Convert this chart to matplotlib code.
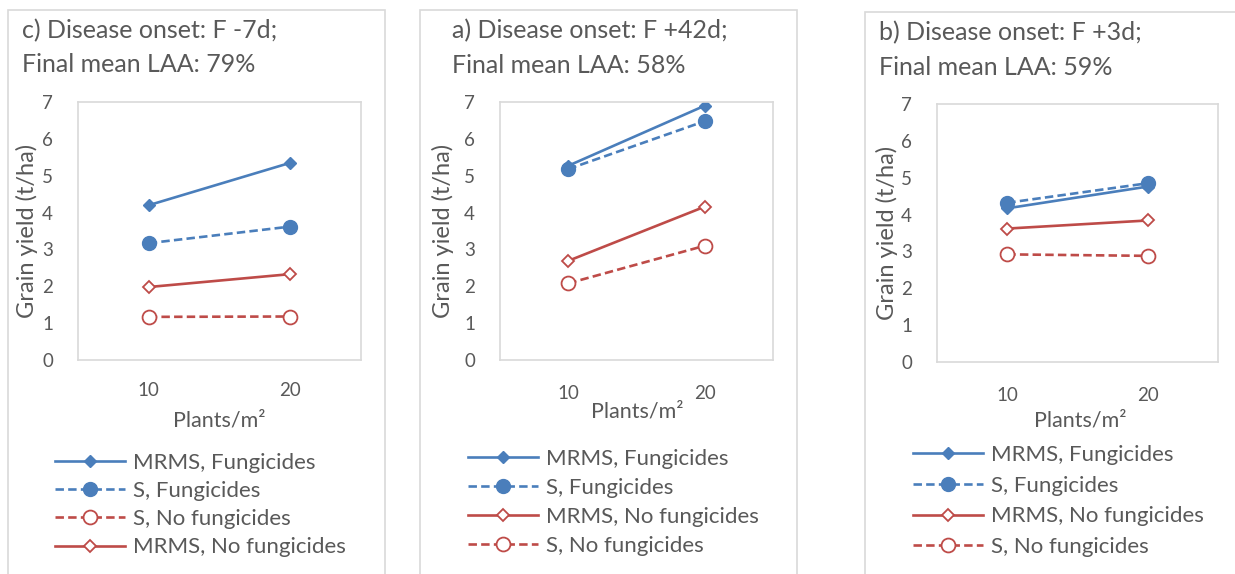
import matplotlib
matplotlib.use('Agg')
import matplotlib.pyplot as plt
from matplotlib.patches import Rectangle

# 字体：Lato 与 Calibri 外观接近
plt.rcParams['font.family'] = ['Lato', 'DejaVu Sans']

W, H = 1235, 574

# 数据
categories = ['10', '20']

c_mrms_f = [4.20, 5.35]
c_s_f = [3.17, 3.62]
c_s_nof = [1.17, 1.18]
c_mrms_nof = [1.98, 2.33]

a_mrms_f = [5.27, 6.90]
a_s_f = [5.18, 6.48]
a_mrms_nof = [2.69, 4.16]
a_s_nof = [2.08, 3.10]

b_mrms_f = [4.17, 4.76]
b_s_f = [4.32, 4.85]
b_mrms_nof = [3.62, 3.84]
b_s_nof = [2.92, 2.88]

titles = [('c) Disease onset: F -7d;', 'Final mean LAA: 79%'),
          ('a) Disease onset: F +42d;', 'Final mean LAA: 58%'),
          ('b) Disease onset: F +3d;', 'Final mean LAA: 59%')]

BLUE = '#4A7EBB'
RED = '#BE4B48'
GREY = '#595959'
FRAME = '#D9D9D9'
DASH = (0, (3.2, 1.6))


def fx(x):
    return x / W


def fy(y):
    return 1 - y / H


def style_of(key):
    # 每条系列的线型和标记
    if key == 'mrms_f':
        return dict(color=BLUE, ls='-', marker='D', ms=6.5, mfc=BLUE, mec=BLUE,
                    label='MRMS, Fungicides')
    if key == 's_f':
        return dict(color=BLUE, ls=DASH, marker='o', ms=10, mfc=BLUE, mec=BLUE,
                    label='S, Fungicides')
    if key == 'mrms_nof':
        return dict(color=RED, ls='-', marker='D', ms=6.5, mfc='white', mec=RED,
                    mew=1.3, label='MRMS, No fungicides')
    return dict(color=RED, ls=DASH, marker='o', ms=10, mfc='white', mec=RED,
                mew=1.3, label='S, No fungicides')


fig = plt.figure(figsize=(W / 100, H / 100), dpi=100)

# 面板配置：外框、绘图区、标题位置、图例位置/行距、各标签位置
panels = [
    dict(border=(7.5, 10, 385, 590), box=(78, 102, 361, 360),
         title=(22, 31, 65), legend=(55, 453, 0.365),
         series=[('mrms_f', c_mrms_f), ('s_f', c_s_f),
                 ('s_nof', c_s_nof), ('mrms_nof', c_mrms_nof)],
         xlab=(0.5, -0.236), ylab=-0.18, xpad=16),
    dict(border=(420, 10, 797, 590), box=(500, 102, 773, 360),
         title=(452, 31, 66), legend=(468, 449, 0.40),
         series=[('mrms_f', a_mrms_f), ('s_f', a_s_f),
                 ('mrms_nof', a_mrms_nof), ('s_nof', a_s_nof)],
         xlab=(0.502, -0.20), ylab=-0.209, xpad=18),
    dict(border=(865, 12, 1245, 590), box=(937, 104, 1218, 362),
         title=(879, 33, 67.5), legend=(913, 445, 0.48),
         series=[('mrms_f', b_mrms_f), ('s_f', b_s_f),
                 ('mrms_nof', b_mrms_nof), ('s_nof', b_s_nof)],
         xlab=(0.509, -0.225), ylab=-0.178, xpad=18),
]

for i, p in enumerate(panels):
    # 外框
    x0, y0, x1, y1 = p['border']
    fig.patches.append(Rectangle((fx(x0), fy(y1)), (x1 - x0) / W, (y1 - y0) / H,
                                 transform=fig.transFigure, fill=False,
                                 edgecolor=FRAME, lw=1.2))
    l, t, r, b = p['box']
    ax = fig.add_axes([fx(l), fy(b), (r - l) / W, (b - t) / H])
    xs = range(len(categories))
    for key, vals in p['series']:
        ax.plot(xs, vals, lw=1.9, **style_of(key))

    ax.set_xlim(-0.5, 1.5)
    ax.set_ylim(0, 7)
    ax.set_xticks(list(xs))
    ax.set_xticklabels(categories)
    ax.set_yticks(range(0, 8))
    ax.tick_params(axis='both', length=0, labelsize=13.5, colors=GREY)
    ax.tick_params(axis='y', pad=18)
    ax.tick_params(axis='x', pad=p['xpad'])
    for s in ax.spines.values():
        s.set_color(FRAME)
        s.set_linewidth(1.2)

    ax.set_xlabel('Plants/m²', fontsize=15.5, color=GREY)
    ax.xaxis.set_label_coords(*p['xlab'])
    ax.xaxis.label.set_va('center')
    ax.set_ylabel('Grain yield (t/ha)', fontsize=17, color=GREY)
    ax.yaxis.set_label_coords(p['ylab'], 0.5)
    ax.yaxis.label.set_va('center')

    # 标题两行
    tx, ty1, ty2 = p['title']
    fig.text(fx(tx), fy(ty1), titles[i][0], fontsize=18, color=GREY, va='center')
    fig.text(fx(tx), fy(ty2), titles[i][1], fontsize=18, color=GREY, va='center')

    lx, ly, lsp = p['legend']
    ax.legend(loc='upper left', bbox_to_anchor=(fx(lx), fy(ly)),
              bbox_transform=fig.transFigure, frameon=False, fontsize=16,
              handlelength=3.15, handletextpad=0.36, labelspacing=lsp,
              borderpad=0, borderaxespad=0, numpoints=1, labelcolor=GREY)

fig.savefig('out.png', dpi=100)
